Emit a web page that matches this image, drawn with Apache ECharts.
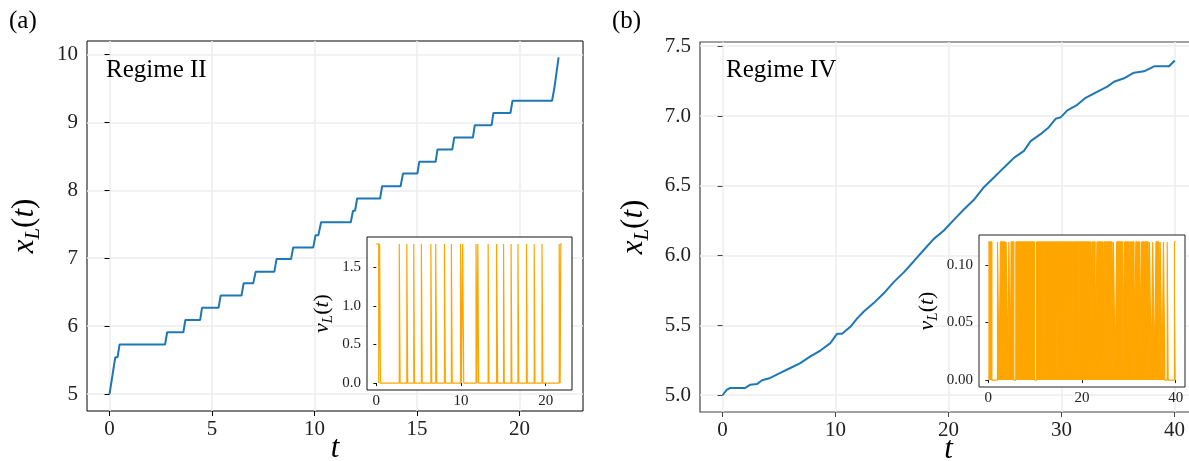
<!DOCTYPE html>
<html>
<head>
<meta charset="utf-8">
<script src="https://cdn.jsdelivr.net/npm/echarts@6/dist/echarts.min.js"></script>
<style>html,body{margin:0;padding:0;background:#fff}#c{width:1189px;height:461px}</style>
</head>
<body>
<div id="c"></div>
<script>
// ---------- Data (a) Regime II ----------
var tA = [0, 0.28, 0.39, 0.49, 2.71, 2.81, 3.60, 3.70, 4.42, 4.51, 5.32, 5.42, 6.44, 6.54, 7.01, 7.13, 8.04, 8.15, 8.86, 8.96, 9.94, 10.05, 10.19, 10.32, 11.77, 11.88, 11.98, 12.08, 13.20, 13.30, 14.20, 14.32, 15.02, 15.11, 15.91, 16.00, 16.72, 16.82, 17.73, 17.82, 18.64, 18.73, 19.56, 19.66, 21.59, 21.70, 21.78, 21.91];
var xA = [5.00, 5.54, 5.54, 5.73, 5.73, 5.91, 5.91, 6.09, 6.09, 6.27, 6.27, 6.45, 6.45, 6.63, 6.63, 6.80, 6.80, 6.99, 6.99, 7.16, 7.16, 7.34, 7.34, 7.53, 7.53, 7.70, 7.70, 7.88, 7.88, 8.06, 8.06, 8.25, 8.25, 8.42, 8.42, 8.60, 8.60, 8.78, 8.78, 8.96, 8.96, 9.14, 9.14, 9.32, 9.32, 9.50, 9.50, 9.96];
// moving intervals (v_L = vMaxA), otherwise v_L = 0
var movingA = [[0, 0.28], [0.39, 0.49], [2.71, 2.81], [3.60, 3.70], [4.42, 4.51], [5.32, 5.42], [6.44, 6.54], [7.01, 7.13], [8.04, 8.15], [8.86, 8.96], [9.94, 10.05], [10.19, 10.32], [11.77, 11.88], [11.98, 12.08], [13.20, 13.30], [14.20, 14.32], [15.02, 15.11], [15.91, 16.00], [16.72, 16.82], [17.73, 17.82], [18.64, 18.73], [19.56, 19.66], [21.59, 21.70], [21.78, 21.91]];
var vMaxA = 1.8;
var endA = 21.91;
var xTicksA = [0, 5, 10, 15, 20];
var yTicksA = [5, 6, 7, 8, 9, 10];
var insetXTicksA = [0, 10, 20];
var insetYTicksA = [0.0, 0.5, 1.0, 1.5];

// ---------- Data (b) Regime IV ----------
var tB = [0, 0.38, 0.68, 2.0, 2.45, 3.04, 3.49, 4.22, 5.11, 6.0, 6.88, 7.77, 8.66, 9.54, 10.13, 10.58, 11.31, 11.9, 12.5, 13.38, 14.27, 15.15, 16.04, 16.93, 17.81, 18.7, 19.59, 20.47, 21.36, 22.25, 23.13, 24.02, 24.9, 25.79, 26.68, 27.27, 28.15, 28.89, 29.48, 29.93, 30.52, 31.4, 32.14, 32.73, 33.32, 34.06, 34.65, 35.54, 36.42, 37.31, 38.2, 39.53, 40.03];
var xB = [5.0, 5.04, 5.052, 5.052, 5.076, 5.08, 5.107, 5.124, 5.16, 5.195, 5.23, 5.278, 5.32, 5.373, 5.44, 5.44, 5.49, 5.549, 5.6, 5.66, 5.73, 5.81, 5.88, 5.96, 6.04, 6.12, 6.18, 6.256, 6.33, 6.4, 6.49, 6.56, 6.63, 6.70, 6.75, 6.82, 6.87, 6.92, 6.98, 6.99, 7.04, 7.08, 7.13, 7.155, 7.18, 7.21, 7.245, 7.27, 7.31, 7.32, 7.356, 7.356, 7.397];
var movingB = [[0, 0.75], [1.95, 2.29], [2.58, 3.58], [3.79, 4.15], [4.36, 4.72], [4.86, 5.44], [5.87, 7.87], [8.0, 9.87], [10.3, 11.87], [12.0, 14.45], [14.6, 16.6], [16.7, 18.0], [18.2, 19.3], [19.45, 21.8], [22.1, 22.8], [23.2, 24.5], [24.8, 26.4], [26.7, 27.1], [27.4, 28.7], [29.1, 30.1], [30.4, 31.1], [31.5, 32.3], [32.7, 33.3], [33.5, 34.1], [34.4, 34.8], [35.1, 35.5], [35.8, 36.4], [36.7, 37.1], [37.4, 37.7], [38.2, 38.4], [39.75, 40.03]];
var vMaxB = 0.12;
var endB = 40.03;
var xTicksB = [0, 10, 20, 30, 40];
var yTicksB = [5.0, 5.5, 6.0, 6.5, 7.0, 7.5];
var insetXTicksB = [0, 20, 40];
var insetYTicksB = [0.00, 0.05, 0.10];

// ---------- helpers ----------
function pairs(ts, xs) { return ts.map(function (t, i) { return [t, xs[i]]; }); }
function squareWave(intervals, vmax, end) {
  var out = [];
  intervals.forEach(function (iv) {
    out.push([iv[0], 0]); out.push([iv[0], vmax]);
    if (iv[1] < end) { out.push([iv[1], vmax]); out.push([iv[1], 0]); }
    else { out.push([iv[1], vmax]); }
  });
  if (out.length && out[0][0] === 0) out.shift();
  var last = intervals[intervals.length - 1];
  if (last[1] < end) out.push([end, 0]);
  return out;
}

var SERIF = 'Liberation Serif';
var MATH = 'Liberation Serif';

function mathRich(big, small) {
  return {
    i: { fontFamily: MATH, fontStyle: 'italic', fontSize: big, lineHeight: big * 1.25, color: '#000' },
    n: { fontFamily: MATH, fontSize: big, lineHeight: big * 1.25, color: '#000' },
    s: { fontFamily: MATH, fontStyle: 'italic', fontSize: small, lineHeight: small, verticalAlign: 'bottom', color: '#000' }
  };
}

function xAxisCfg(g, min, max, ticks, opts) {
  return {
    gridIndex: g, type: 'value', min: min, max: max,
    axisLine: { show: false },
    axisTick: { show: true, length: opts.tick, lineStyle: { color: opts.color }, customValues: ticks },
    axisLabel: { customValues: ticks, fontFamily: SERIF, fontSize: opts.fs, color: '#222', margin: opts.margin,
      formatter: opts.fmt || function (v) { return String(v); } },
    splitLine: { show: opts.grid, lineStyle: { color: '#ececec', width: 1.5 } },
    name: opts.name || '', nameLocation: 'middle', nameGap: opts.nameGap || 0,
    nameMoveOverlap: opts.moveOverlap === undefined ? true : opts.moveOverlap,
    nameTextStyle: opts.nameStyle || {},
    z: opts.z || 0
  };
}
function yAxisCfg(g, min, max, ticks, opts) {
  var c = xAxisCfg(g, min, max, ticks, opts);
  c.nameRotate = 90;
  return c;
}

var chart = echarts.init(document.getElementById('c'), null, { renderer: 'canvas' });
var option = {
  animation: false,
  backgroundColor: '#fff',
  title: [
    { text: '(a)', left: 4, top: 4, textStyle: { fontFamily: SERIF, fontWeight: 'normal', fontSize: 25, color: '#000' } },
    { text: '(b)', left: 607, top: 4, textStyle: { fontFamily: SERIF, fontWeight: 'normal', fontSize: 25, color: '#000' } },
    { text: 'Regime II', left: 101, top: 53, textStyle: { fontFamily: SERIF, fontWeight: 'normal', fontSize: 25, color: '#000' } },
    { text: 'Regime IV', left: 721, top: 53, textStyle: { fontFamily: SERIF, fontWeight: 'normal', fontSize: 25, color: '#000' } }
  ],
  grid: [
    { left: 87, top: 41, right: 606, bottom: 50, show: true, borderColor: '#000', borderWidth: 1, backgroundColor: 'transparent', outerBoundsMode: 'none', containLabel: false },
    { left: 700, top: 42, right: -8, bottom: 49, show: true, borderColor: '#444', borderWidth: 1.2, backgroundColor: 'transparent', outerBoundsMode: 'none', containLabel: false },
    { left: 367, top: 237, right: 617, bottom: 71, show: true, borderColor: '#111', borderWidth: 1, backgroundColor: '#fff', z: 5, outerBoundsMode: 'none', containLabel: false },
    { left: 979, top: 235, right: 4, bottom: 74, show: true, borderColor: '#222', borderWidth: 1, backgroundColor: '#fff', z: 5, outerBoundsMode: 'none', containLabel: false }
  ],
  xAxis: [
    xAxisCfg(0, -1.1, 23.1, xTicksA, { tick: 5, color: '#000', fs: 21, margin: 8, grid: true, moveOverlap: false,
      name: '{i|t}', nameGap: 18, nameStyle: { rich: mathRich(31, 21) } }),
    xAxisCfg(1, -2, 42, xTicksB, { tick: 5, color: '#444', fs: 21, margin: 8, grid: true, moveOverlap: false,
      name: '{i|t}', nameGap: 18, nameStyle: { rich: mathRich(31, 21) } }),
    xAxisCfg(2, -1.1, 23.1, insetXTicksA, { tick: 3, color: '#111', fs: 15, margin: 4, grid: false, z: 6 }),
    xAxisCfg(3, -2, 42, insetXTicksB, { tick: 3, color: '#222', fs: 15, margin: 4, grid: false, z: 6 })
  ],
  yAxis: [
    yAxisCfg(0, 4.75, 10.2, yTicksA, { tick: 5, color: '#000', fs: 21, margin: 9, grid: true,
      name: '{i|x}{s|L}{n|(}{i|t}{n|)}', nameGap: 43, nameStyle: { rich: mathRich(31, 21) } }),
    yAxisCfg(1, 4.88, 7.53, yTicksB, { tick: 5, color: '#444', fs: 21, margin: 9, grid: true,
      fmt: function (v) { return v.toFixed(1); },
      name: '{i|x}{s|L}{n|(}{i|t}{n|)}', nameGap: 47, nameStyle: { rich: mathRich(31, 21) } }),
    yAxisCfg(2, -0.09, 1.89, insetYTicksA, { tick: 3, color: '#111', fs: 15, margin: 6, grid: false, z: 6,
      fmt: function (v) { return v.toFixed(1); },
      name: '{i|v}{s|L}{n|(}{i|t}{n|)}', nameGap: 31, nameStyle: { rich: mathRich(22, 15) } }),
    yAxisCfg(3, -0.006, 0.126, insetYTicksB, { tick: 3, color: '#222', fs: 15, margin: 6, grid: false, z: 6,
      fmt: function (v) { return v.toFixed(2); },
      name: '{i|v}{s|L}{n|(}{i|t}{n|)}', nameGap: 38, nameStyle: { rich: mathRich(22, 15) } })
  ],
  series: [
    { type: 'line', xAxisIndex: 0, yAxisIndex: 0, data: pairs(tA, xA), showSymbol: false, symbol: 'none',
      lineStyle: { color: '#1f77b4', width: 2 }, z: 3 },
    { type: 'line', xAxisIndex: 1, yAxisIndex: 1, data: pairs(tB, xB), showSymbol: false, symbol: 'none',
      lineStyle: { color: '#1f77b4', width: 2 }, z: 3 },
    { type: 'line', xAxisIndex: 2, yAxisIndex: 2, data: squareWave(movingA, vMaxA, endA), showSymbol: false, symbol: 'none',
      lineStyle: { color: '#ffa500', width: 1.2 }, z: 8 },
    { type: 'line', xAxisIndex: 3, yAxisIndex: 3, data: squareWave(movingB, vMaxB, endB), showSymbol: false, symbol: 'none',
      lineStyle: { color: '#ffa500', width: 1.2 }, areaStyle: { color: '#ffa500', opacity: 1, origin: 0 }, z: 8 }
  ]
};
chart.setOption(option);
</script>
</body>
</html>
